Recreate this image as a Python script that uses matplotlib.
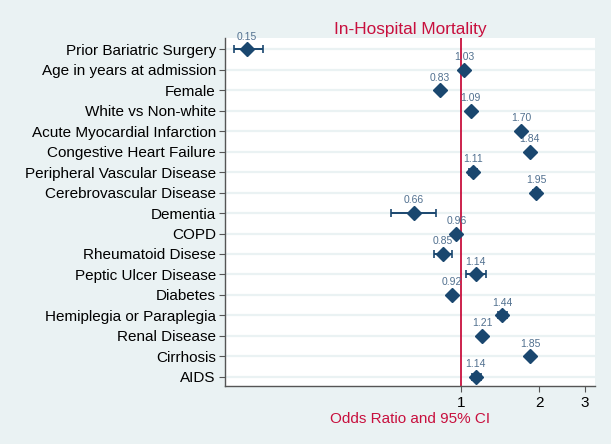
import matplotlib
matplotlib.use("Agg")
from matplotlib import pyplot as plt
from matplotlib.ticker import FixedLocator, NullLocator
import numpy as np

plt.rcParams['font.family'] = ['Liberation Sans', 'DejaVu Sans']

# data
labels = ["Prior Bariatric Surgery", "Age in years at admission", "Female",
          "White vs Non-white", "Acute Myocardial Infarction",
          "Congestive Heart Failure", "Peripheral Vascular Disease",
          "Cerebrovascular Disease", "Dementia", "COPD", "Rheumatoid Disese",
          "Peptic Ulcer Disease", "Diabetes", "Hemiplegia or Paraplegia",
          "Renal Disease", "Cirrhosis", "AIDS"]
odds = [0.15, 1.03, 0.83, 1.09, 1.70, 1.84, 1.11, 1.95, 0.66, 0.96, 0.85,
        1.14, 0.92, 1.44, 1.21, 1.85, 1.14]
ci_low = [0.134, 1.02, 0.82, 1.07, 1.67, 1.81, 1.07, 1.90, 0.54, 0.94, 0.79,
          1.05, 0.91, 1.39, 1.19, 1.81, 1.10]
ci_high = [0.173, 1.04, 0.84, 1.11, 1.73, 1.87, 1.15, 2.01, 0.80, 0.98, 0.92,
           1.25, 0.93, 1.50, 1.23, 1.90, 1.19]
xticks = [1, 2, 3]

bg = "#eaf2f3"
navy = "#1a476f"
red = "#c8103e"

fig = plt.figure(figsize=(6.11, 4.44), dpi=100, facecolor=bg)
ax = fig.add_axes([0.368, 0.131, 0.606, 0.783])
ax.set_facecolor("white")

y = np.arange(len(labels))
odds = np.array(odds)
err = [odds - np.array(ci_low), np.array(ci_high) - odds]

for yi in y:
    ax.axhline(yi, color=bg, lw=1.6, zorder=0)
ax.axvline(1, color=red, lw=1.3, zorder=1)

ax.errorbar(odds, y, xerr=err, fmt='D', color=navy, ms=7, lw=1.4,
            capsize=3, capthick=1.2, zorder=3)
for xi, yi, v in zip(odds, y, odds):
    ax.annotate(f"{v:.2f}", (xi, yi), xytext=(0, 5.5), textcoords='offset points',
                ha='center', va='bottom', fontsize=7.5, color="#51708f")

ax.set_xscale('log')
ax.set_xlim(0.1236, 3.28)
ax.set_ylim(len(labels) - 0.56, -0.54)
ax.xaxis.set_major_locator(FixedLocator(xticks))
ax.xaxis.set_minor_locator(NullLocator())
ax.set_xticklabels([str(t) for t in xticks], fontsize=11)
ax.set_yticks(y)
ax.set_yticklabels(labels, fontsize=11)
ax.tick_params(axis='both', color="#555555", length=4.5, width=0.8)
ax.tick_params(axis='y', pad=2)
ax.tick_params(axis='x', pad=3)

for s in ['top', 'right']:
    ax.spines[s].set_visible(False)
for s in ['left', 'bottom']:
    ax.spines[s].set_color("#555555")
    ax.spines[s].set_linewidth(1.0)

ax.set_title("In-Hospital Mortality", color=red, fontsize=12.4, pad=3)
ax.set_xlabel("Odds Ratio and 95% CI", color=red, fontsize=11, labelpad=1)

fig.savefig("out.png", dpi=100, facecolor=bg)
